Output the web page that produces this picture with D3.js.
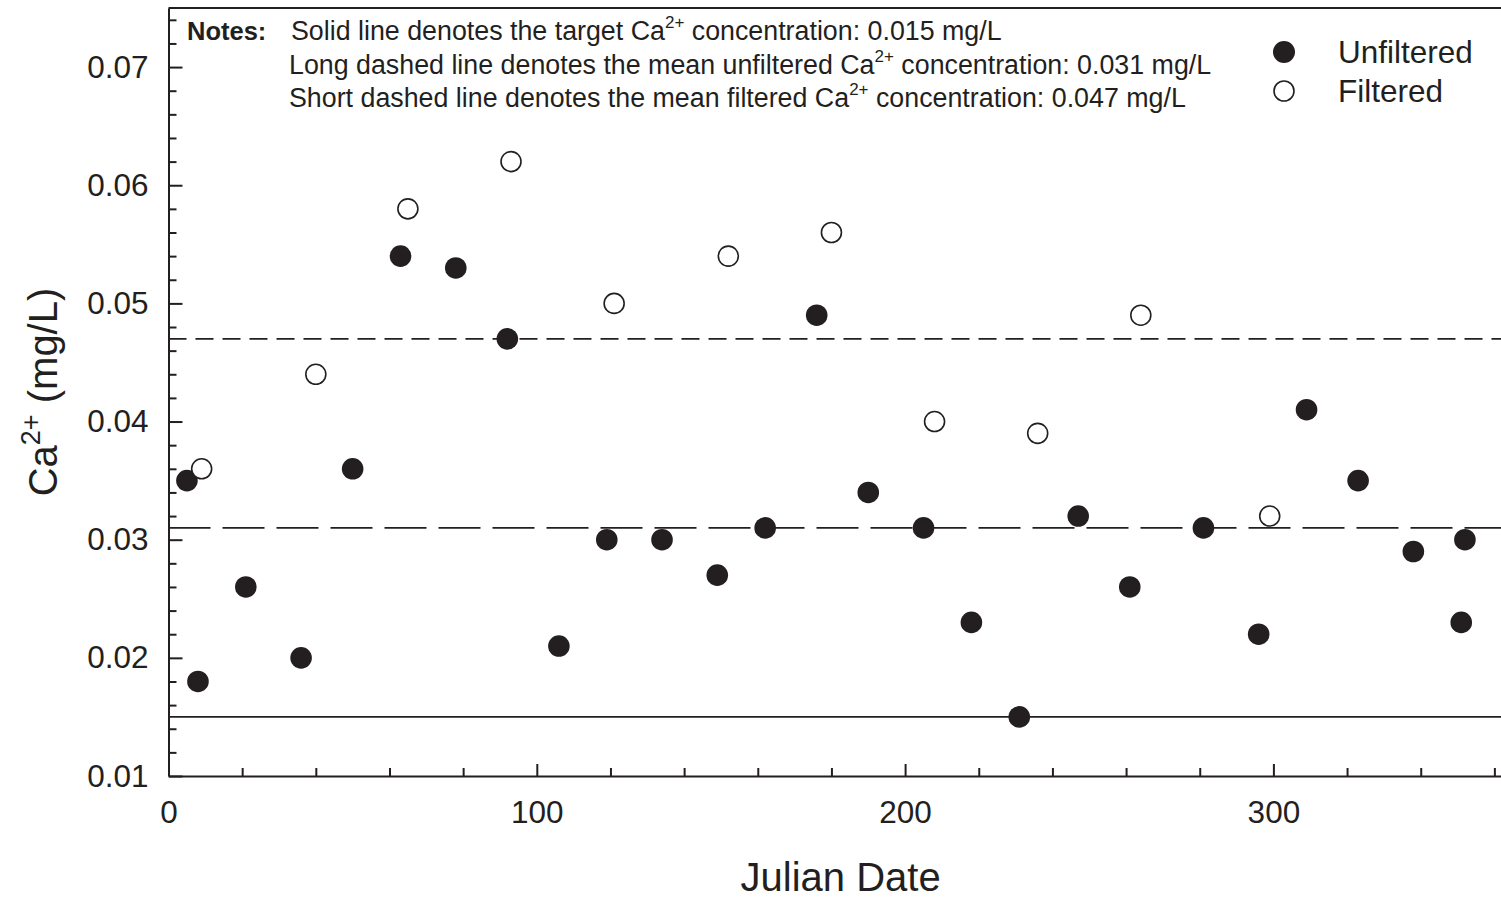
<!DOCTYPE html>
<html>
<head>
<meta charset="utf-8">
<script src="https://cdn.jsdelivr.net/npm/d3@7"></script>
<style>
  html, body { margin: 0; padding: 0; background: #fff; }
  svg { display: block; font-family: "Liberation Sans", Arial, Helvetica, sans-serif; }
</style>
</head>
<body>
<svg id="chart" width="1501" height="898"></svg>
<script>
// Julian date of each sample
const unfilteredDays = [5, 8, 21, 36, 50, 63, 78, 92, 106, 119, 134, 149, 162, 176, 190, 205, 218, 231, 247, 261, 281, 296, 309, 323, 338, 351, 352];
// Ca2+ concentration of unfiltered samples (mg/L)
const unfilteredCa = [0.035, 0.018, 0.026, 0.020, 0.036, 0.054, 0.053, 0.047, 0.021, 0.030, 0.030, 0.027, 0.031, 0.049, 0.034, 0.031, 0.023, 0.015, 0.032, 0.026, 0.031, 0.022, 0.041, 0.035, 0.029, 0.023, 0.030];

const filteredDays = [9, 40, 65, 93, 121, 152, 180, 208, 236, 264, 299];
// Ca2+ concentration of filtered samples (mg/L)
const filteredCa = [0.036, 0.044, 0.058, 0.062, 0.050, 0.054, 0.056, 0.040, 0.039, 0.049, 0.032];

// Reference levels (mg/L): target, mean unfiltered, mean filtered
const targetCa = 0.015;
const meanUnfilteredCa = 0.031;
const meanFilteredCa = 0.047;

const xMajorTicks = [0, 100, 200, 300];
const yMajorTicks = [0.01, 0.02, 0.03, 0.04, 0.05, 0.06, 0.07];

const ink = "#231f20";
const svg = d3.select("#chart");

const plotLeft = 168.5, plotTop = 8, plotBottom = 776;
const x = d3.scaleLinear().domain([0, 365]).range([plotLeft, plotLeft + 365 * 3.683]);
const y = d3.scaleLinear().domain([0.01, 0.075]).range([plotBottom, plotTop]);

// frame (top edge) of the plotting area
svg.append("line")
  .attr("x1", x(0)).attr("x2", x(365))
  .attr("y1", y(0.075)).attr("y2", y(0.075))
  .attr("stroke", ink).attr("stroke-width", 2);

// reference lines
const refLines = [
  { v: targetCa, dash: null },
  { v: meanUnfilteredCa, dash: "42,12" },
  { v: meanFilteredCa, dash: "18,9" }
];
svg.append("g").selectAll("line").data(refLines).join("line")
  .attr("x1", x(0)).attr("x2", x(365))
  .attr("y1", d => y(d.v)).attr("y2", d => y(d.v))
  .attr("stroke", ink).attr("stroke-width", 1.6)
  .attr("stroke-dasharray", d => d.dash);

// x axis: minor then major ticks
const xMinor = d3.range(0, 361, 20).filter(v => !xMajorTicks.includes(v));
svg.append("g").attr("transform", `translate(0,${plotBottom})`)
  .call(d3.axisBottom(x).tickValues(xMinor).tickSize(-8).tickFormat(""))
  .call(g => g.select(".domain").remove());
const gx = svg.append("g").attr("transform", `translate(0,${plotBottom})`)
  .call(d3.axisBottom(x).tickValues(xMajorTicks).tickSize(-12).tickPadding(25).tickSizeOuter(0).tickFormat(d3.format("d")));
gx.selectAll("text").attr("font-size", 31.5).attr("fill", ink);
gx.attr("font-family", null);

// y axis: minor then major ticks
const yMinor = d3.range(6, 38).map(i => +(i * 0.002).toFixed(3)).filter(v => !yMajorTicks.includes(v));
svg.append("g").attr("transform", `translate(${plotLeft},0)`)
  .call(d3.axisLeft(y).tickValues(yMinor).tickSize(-8).tickFormat(""))
  .call(g => g.select(".domain").remove());
const gy = svg.append("g").attr("transform", `translate(${plotLeft},0)`)
  .call(d3.axisLeft(y).tickValues(yMajorTicks).tickSize(-14).tickPadding(20).tickSizeOuter(0).tickFormat(d3.format(".2f")));
gy.selectAll("text").attr("font-size", 31.5).attr("fill", ink);
gy.attr("font-family", null);

svg.selectAll(".domain, .tick line").attr("stroke", ink).attr("stroke-width", 2);

// points
svg.append("g").selectAll("circle").data(unfilteredDays.map((d, i) => [d, unfilteredCa[i]])).join("circle")
  .attr("cx", d => x(d[0])).attr("cy", d => y(d[1])).attr("r", 10.8)
  .attr("fill", ink);
svg.append("g").selectAll("circle").data(filteredDays.map((d, i) => [d, filteredCa[i]])).join("circle")
  .attr("cx", d => x(d[0])).attr("cy", d => y(d[1])).attr("r", 10)
  .attr("fill", "#fff").attr("stroke", ink).attr("stroke-width", 1.6);

// axis titles
svg.append("text").attr("x", (x(0) + x(365)) / 2).attr("y", 891)
  .attr("text-anchor", "middle").attr("font-size", 40).attr("fill", ink)
  .text("Julian Date");
const yt = svg.append("text").attr("transform", `translate(57,${(plotTop + plotBottom) / 2}) rotate(-90)`)
  .attr("text-anchor", "middle").attr("font-size", 40).attr("fill", ink);
yt.append("tspan").text("Ca");
yt.append("tspan").attr("font-size", 27).attr("dy", -17).text("2+");
yt.append("tspan").attr("dy", 17).text(" (mg/L)");

// notes
const notes = svg.append("g").attr("fill", ink).attr("font-size", 26.8);
notes.append("text").attr("x", 187).attr("y", 40).attr("font-size", 25.5).attr("font-weight", "bold").text("Notes:");
const noteLines = [
  { x: 291, y: 40, pre: "Solid line denotes the target Ca", post: " concentration: " + targetCa.toFixed(3) + " mg/L" },
  { x: 289, y: 73.5, pre: "Long dashed line denotes the mean unfiltered Ca", post: " concentration: " + meanUnfilteredCa.toFixed(3) + " mg/L" },
  { x: 289, y: 107, pre: "Short dashed line denotes the mean filtered Ca", post: " concentration: " + meanFilteredCa.toFixed(3) + " mg/L" }
];
noteLines.forEach(n => {
  const t = notes.append("text").attr("x", n.x).attr("y", n.y);
  t.append("tspan").text(n.pre);
  t.append("tspan").attr("font-size", 17).attr("dy", -12).text("2+");
  t.append("tspan").attr("dy", 12).text(n.post);
});

// legend
const legend = svg.append("g").attr("fill", ink);
legend.append("circle").attr("cx", 1284).attr("cy", 52).attr("r", 11).attr("fill", ink);
legend.append("circle").attr("cx", 1284).attr("cy", 91).attr("r", 10)
  .attr("fill", "#fff").attr("stroke", ink).attr("stroke-width", 1.6);
legend.append("text").attr("x", 1338).attr("y", 63).attr("font-size", 31.5).text("Unfiltered");
legend.append("text").attr("x", 1338).attr("y", 102).attr("font-size", 31.5).text("Filtered");
</script>
</body>
</html>
